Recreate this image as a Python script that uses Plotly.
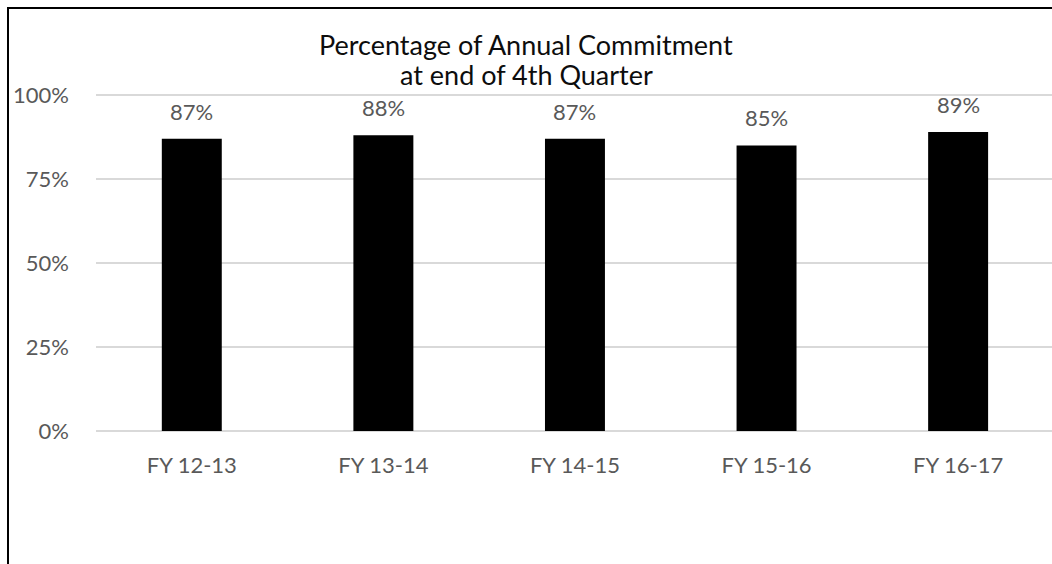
import plotly.graph_objects as go

categories = ["FY 12-13", "FY 13-14", "FY 14-15", "FY 15-16", "FY 16-17"]
values = [0.87, 0.88, 0.87, 0.85, 0.89]
y_ticks = [0, 0.25, 0.5, 0.75, 1.0]
y_tick_labels = ["0%", "25%", "50%", "75%", "100%"]
title_lines = ["Percentage of Annual Commitment", "at end of 4th Quarter"]

FONT = "Lato"
GRAY = "#595959"

fig = go.Figure()
fig.add_trace(go.Bar(x=categories, y=values, marker=dict(color="black", line=dict(width=0)),
                     hoverinfo="skip"))

for c, v in zip(categories, values):
    fig.add_annotation(x=c, y=v, text=f"{round(v*100)}%", showarrow=False,
                       yanchor="bottom", yshift=12,
                       font=dict(family=FONT, size=22, color=GRAY))

for i, line in enumerate(title_lines):
    fig.add_annotation(xref="paper", yref="paper", x=(526 - 96) / 956,
                       y=1 + (94 - (45 + 30 * i)) / 337, text=line, showarrow=False,
                       xanchor="center", yanchor="middle",
                       font=dict(family=FONT, size=27, color="#0d0d0d"))

fig.update_layout(
    width=1052, height=564,
    margin=dict(l=96, r=0, t=94, b=133),
    paper_bgcolor="white", plot_bgcolor="white",
    showlegend=False,
    bargap=0.687,
    xaxis=dict(type="category", range=[-0.5, 4.49], showgrid=False, showline=False,
               zeroline=False, ticks="", ticklabelstandoff=19,
               tickfont=dict(family=FONT, size=22, color=GRAY)),
    yaxis=dict(range=[0, 1.003], tickvals=y_ticks, ticktext=y_tick_labels,
               showgrid=True, gridcolor="#d9d9d9", gridwidth=2, zeroline=True,
               zerolinecolor="#d9d9d9", zerolinewidth=2,
               showline=False, ticks="", ticklabelstandoff=26,
               tickfont=dict(family=FONT, size=22, color=GRAY)),
    shapes=[dict(type="rect", xref="paper", yref="paper",
                 x0=(8 - 96) / 956, x1=1.2, y0=-1, y1=1 + (94 - 8) / 337,
                 line=dict(color="black", width=2), fillcolor="rgba(0,0,0,0)", layer="above")],
)

fig.write_html("out.html")
